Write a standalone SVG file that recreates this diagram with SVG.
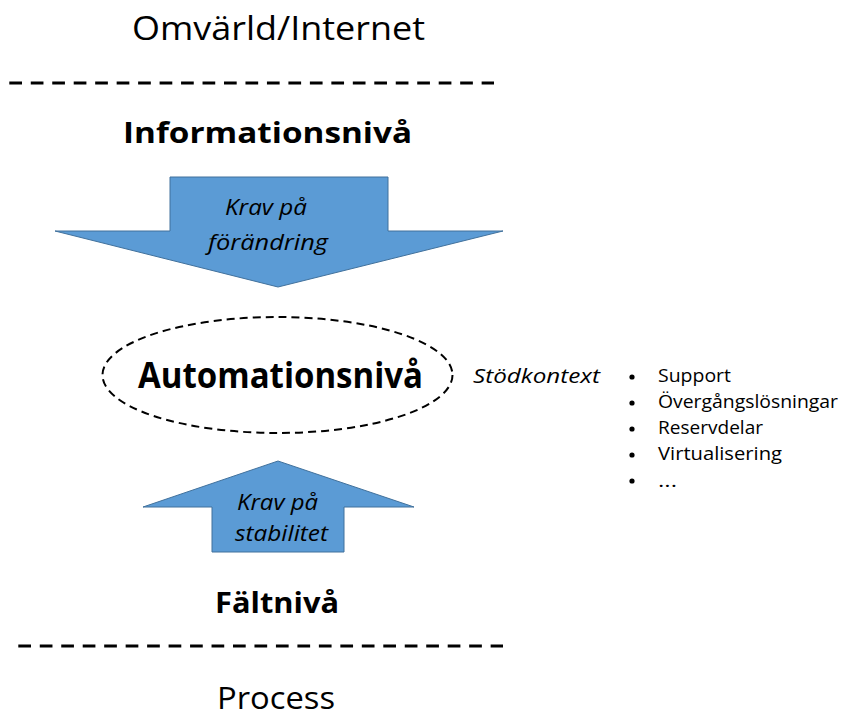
<svg xmlns="http://www.w3.org/2000/svg" width="844" height="719" viewBox="0 0 844 719">
<style>
  text { font-family: "Open Sans", "Noto Sans", "Liberation Sans", sans-serif; fill: #000; }
  .title { font-size: 33px; }
  .lvl { font-size: 29px; font-weight: bold; }
  .big { font-size: 36px; font-weight: bold; }
  .arr { font-size: 22px; font-style: italic; }
  .ctx { font-size: 20px; font-style: italic; }
  .li { font-size: 19px; }
  .arrow { fill: #5B9BD5; stroke: #41719C; stroke-width: 1; }
  .sep { stroke: #000; stroke-width: 3; stroke-dasharray: 12.7 8.77; fill: none; }
  .ell { fill: none; stroke: #000; stroke-width: 2; stroke-dasharray: 8 5; }
</style>
<rect width="844" height="719" fill="#fff"/>

<g id="connectors">
  <g id="arrow-down">
    <polygon class="arrow" points="170,177 388,177 388,231 503,231 278,287 55,231 170,231"/>
    <text class="arr" x="225" y="215" textLength="82" lengthAdjust="spacingAndGlyphs">Krav på</text>
    <text class="arr" x="208" y="250" textLength="120" lengthAdjust="spacingAndGlyphs">förändring</text>
  </g>
  <g id="arrow-up">
    <polygon class="arrow" points="278,461 414,507 344,507 344,552 212,552 212,507 143,507"/>
    <text class="arr" x="237" y="510" textLength="81" lengthAdjust="spacingAndGlyphs">Krav på</text>
    <text class="arr" x="235" y="541" textLength="93" lengthAdjust="spacingAndGlyphs">stabilitet</text>
  </g>
</g>

<g id="separators">
  <line class="sep" x1="9.3" y1="83" x2="494" y2="83"/>
  <line class="sep" x1="18.3" y1="646" x2="503" y2="646"/>
</g>

<g id="omvarld">
  <text class="title" x="132" y="40" textLength="293" lengthAdjust="spacingAndGlyphs">Omvärld/Internet</text>
</g>

<g id="informationsniva">
  <text class="lvl" x="123" y="143" textLength="289" lengthAdjust="spacingAndGlyphs">Informationsnivå</text>
</g>

<g id="automationsniva">
  <ellipse class="ell" cx="277.5" cy="375" rx="175" ry="58"/>
  <text class="big" x="138" y="388" textLength="285" lengthAdjust="spacingAndGlyphs">Automationsnivå</text>
</g>

<g id="stodkontext">
  <text class="ctx" x="473" y="383" textLength="127" lengthAdjust="spacingAndGlyphs">Stödkontext</text>
  <g fill="#000">
    <circle cx="632" cy="377" r="2.6"/>
    <circle cx="632" cy="403" r="2.6"/>
    <circle cx="632" cy="429" r="2.6"/>
    <circle cx="632" cy="455" r="2.6"/>
    <circle cx="632" cy="481" r="2.6"/>
  </g>
  <text class="li" x="658" y="382" textLength="73" lengthAdjust="spacingAndGlyphs">Support</text>
  <text class="li" x="658" y="408" textLength="180" lengthAdjust="spacingAndGlyphs">Övergångslösningar</text>
  <text class="li" x="658" y="434" textLength="105" lengthAdjust="spacingAndGlyphs">Reservdelar</text>
  <text class="li" x="658" y="460" textLength="124" lengthAdjust="spacingAndGlyphs">Virtualisering</text>
  <text class="li" x="658" y="487" textLength="19" lengthAdjust="spacingAndGlyphs">...</text>
</g>

<g id="faltniva">
  <text class="lvl" x="215" y="613" textLength="124" lengthAdjust="spacingAndGlyphs">Fältnivå</text>
</g>

<g id="process">
  <text x="217" y="709" font-size="31" textLength="118" lengthAdjust="spacingAndGlyphs">Process</text>
</g>
</svg>
